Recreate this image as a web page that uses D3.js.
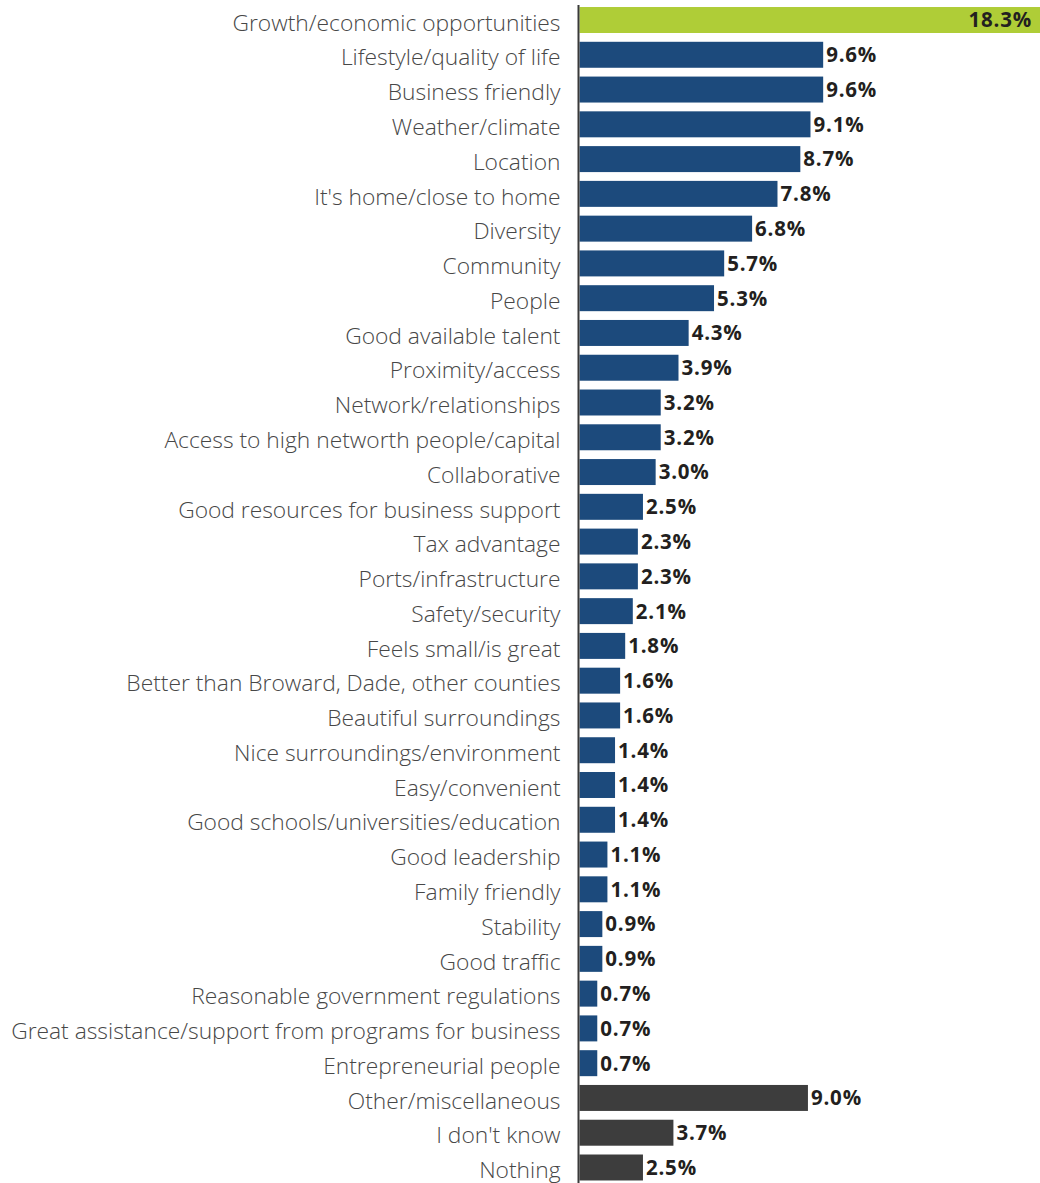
<!DOCTYPE html>
<html>
<head>
<meta charset="utf-8">
<script src="https://cdn.jsdelivr.net/npm/d3@7"></script>
<style>
  html, body { margin: 0; padding: 0; background: #ffffff; }
  svg { display: block; }
</style>
</head>
<body>
<svg id="chart" width="1040" height="1183"></svg>
<script>
// Reasons cited, share of responses (%)
const categories = [
  "Growth/economic opportunities",
  "Lifestyle/quality of life",
  "Business friendly",
  "Weather/climate",
  "Location",
  "It's home/close to home",
  "Diversity",
  "Community",
  "People",
  "Good available talent",
  "Proximity/access",
  "Network/relationships",
  "Access to high networth people/capital",
  "Collaborative",
  "Good resources for business support",
  "Tax advantage",
  "Ports/infrastructure",
  "Safety/security",
  "Feels small/is great",
  "Better than Broward, Dade, other counties",
  "Beautiful surroundings",
  "Nice surroundings/environment",
  "Easy/convenient",
  "Good schools/universities/education",
  "Good leadership",
  "Family friendly",
  "Stability",
  "Good traffic",
  "Reasonable government regulations",
  "Great assistance/support from programs for business",
  "Entrepreneurial people",
  "Other/miscellaneous",
  "I don't know",
  "Nothing"
];

const values = [
  18.3, 9.6, 9.6, 9.1, 8.7, 7.8, 6.8, 5.7, 5.3, 4.3, 3.9, 3.2, 3.2, 3.0,
  2.5, 2.3, 2.3, 2.1, 1.8, 1.6, 1.6, 1.4, 1.4, 1.4, 1.1, 1.1, 0.9, 0.9,
  0.7, 0.7, 0.7, 9.0, 3.7, 2.5
];

// group of each row: top answer, specific reason, non-specific answer
const groups = [
  "top",
  "reason", "reason", "reason", "reason", "reason", "reason", "reason", "reason",
  "reason", "reason", "reason", "reason", "reason", "reason", "reason", "reason",
  "reason", "reason", "reason", "reason", "reason", "reason", "reason", "reason",
  "reason", "reason", "reason", "reason", "reason", "reason",
  "other", "other", "other"
];

const groupColors = { top: "#afcd37", reason: "#1c4a7c", other: "#3d3d3d" };

const rows = categories.map((c, i) => ({ category: c, value: values[i], group: groups[i] }));

const svg = d3.select("#chart");
const axisX = 578.5;

const x = d3.scaleLinear().domain([0, 18.3]).range([axisX + 1, 1044]);
const y = d3.scaleBand()
  .domain(categories)
  .range([2.5, 1185])
  .paddingInner(0.253)
  .paddingOuter(0.13);

// bars
svg.append("g")
  .selectAll("rect")
  .data(rows)
  .join("rect")
  .attr("x", x(0))
  .attr("y", d => y(d.category))
  .attr("width", d => x(d.value) - x(0))
  .attr("height", y.bandwidth())
  .attr("fill", d => groupColors[d.group]);

// category labels via a left axis
const yAxis = svg.append("g")
  .attr("transform", `translate(${axisX},0)`)
  .call(d3.axisLeft(y).tickSize(0).tickPadding(18));
yAxis.select(".domain").remove();
yAxis.selectAll("text")
  .attr("font-family", "'Open Sans', Lato, sans-serif")
  .attr("font-size", 22.8)
  .attr("font-weight", 300)
  .attr("fill", "#474747")
  .attr("dy", "0.47em");

// vertical baseline
svg.append("line")
  .attr("x1", axisX).attr("x2", axisX)
  .attr("y1", 5).attr("y2", 1183)
  .attr("stroke", "#3a3a3a")
  .attr("stroke-width", 2);

// value labels
const fmt = d3.format(".1f");
svg.append("g")
  .selectAll("text")
  .data(rows)
  .join("text")
  .attr("x", d => d.group === "top" ? x(d.value) - 12 : x(d.value) + 3)
  .attr("y", d => y(d.category) + y.bandwidth() / 2)
  .attr("dy", "0.36em")
  .attr("text-anchor", d => d.group === "top" ? "end" : "start")
  .attr("font-family", "'Open Sans', sans-serif")
  .attr("font-size", 20.5)
  .attr("font-weight", 700)
  .attr("letter-spacing", 0.8)
  .attr("fill", "#231f20")
  .text(d => fmt(d.value) + "%");
</script>
</body>
</html>
